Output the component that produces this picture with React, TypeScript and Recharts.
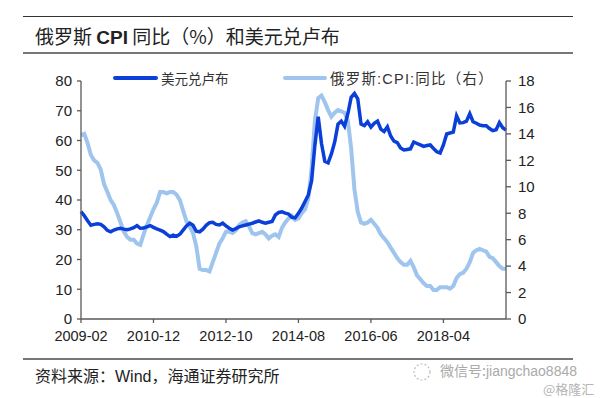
import React from "react";
import { LineChart, Line, XAxis, YAxis } from "recharts";

// USD/RUB, monthly, 2009-02 .. 2019-11
const usdRub = [
  36.1, 34.7, 33.0, 31.5, 31.8, 32.0, 31.8, 31.0, 29.8, 29.3,
  29.9, 30.3, 30.5, 30.2, 30.0, 30.3, 30.7, 31.4, 30.5, 30.6,
  31.0, 31.4, 30.8, 30.3, 29.9, 29.4, 28.5, 27.7, 28.2, 27.8,
  28.5, 29.9, 31.3, 32.2, 31.5, 29.5, 29.3, 30.2, 31.5, 32.4,
  32.5, 31.8, 31.6, 32.2, 31.3, 30.5, 29.9, 30.4, 31.0, 31.3,
  31.6, 31.9, 32.2, 32.6, 33.0, 32.5, 32.2, 32.5, 32.8, 35.0,
  35.8, 36.0, 35.6, 35.3, 34.2, 34.0, 35.5, 37.3, 39.5, 41.7,
  46.5, 58.5, 68.0, 59.0, 53.0, 52.5, 55.5, 59.5, 65.5, 66.5,
  64.8, 69.0, 74.5, 75.8, 74.0, 65.5, 65.0, 66.3, 64.5, 65.8,
  66.5, 63.8, 63.0, 64.6, 61.5, 59.8, 59.3, 57.5, 56.8, 57.0,
  57.2, 59.5, 59.0, 58.5, 58.0, 58.3, 58.5, 57.3, 56.2, 55.8,
  58.5, 62.2, 62.5, 62.8, 68.3, 65.9, 66.0, 66.5, 69.0, 66.3,
  65.8, 65.2, 65.0, 65.0, 64.0, 63.3, 63.6, 66.0, 64.3, 63.5,
];

// Russia CPI YoY (%), right axis
const cpiYoy = [
  13.9, 14.0, 13.3, 12.4, 12.0, 11.8, 11.3, 10.2, 9.6, 9.0,
  8.6, 8.0, 7.3, 6.6, 6.2, 6.0, 6.0, 5.7, 5.6, 6.4,
  7.1, 7.7, 8.3, 8.8, 9.6, 9.6, 9.5, 9.6, 9.6, 9.4,
  9.0, 8.2, 7.4, 7.0, 6.5, 5.5, 3.8, 3.7, 3.7, 3.6,
  4.3, 5.0, 5.7, 6.1, 6.6, 6.6, 6.5, 6.7, 7.1, 7.3,
  7.4, 7.0, 6.5, 6.4, 6.5, 6.6, 6.4, 6.1, 6.3, 6.4,
  6.2, 6.9, 7.3, 7.6, 7.8, 7.5, 7.6, 8.0, 8.3, 9.1,
  11.4, 15.0, 16.7, 16.9, 16.4, 15.8, 15.3, 15.6, 15.8, 15.7,
  15.6, 15.0, 12.9, 9.8, 8.1, 7.3, 7.2, 7.3, 7.5, 7.2,
  6.9, 6.4, 6.1, 5.8, 5.4, 5.0, 4.6, 4.3, 4.1, 4.1,
  4.4, 3.9, 3.3, 3.0, 2.7, 2.5, 2.5, 2.2, 2.2, 2.4,
  2.4, 2.4, 2.3, 2.5, 3.1, 3.4, 3.5, 3.8, 4.3, 5.0,
  5.2, 5.3, 5.2, 5.1, 4.7, 4.6, 4.3, 4.0, 3.8, 3.8,
];

const startYear = 2009;
const startMonth = 2;
const months = usdRub.map((_, i) => {
  const m = startMonth - 1 + i;
  const y = startYear + Math.floor(m / 12);
  return `${y}-${String((m % 12) + 1).padStart(2, "0")}`;
});

const leftTicks = [0, 10, 20, 30, 40, 50, 60, 70, 80];
const rightTicks = [0, 2, 4, 6, 8, 10, 12, 14, 16, 18];

const data = months.map((month, i) => ({ month, usd: usdRub[i], cpi: cpiYoy[i] }));

const DARK = "#0b3fd9";
const LIGHT = "#9fc5ef";
const AXIS = "#595959";
const cjk = '"Noto Sans CJK SC", "Liberation Sans", sans-serif';
const latin = '"Liberation Sans", Arial, sans-serif';

const abs = (style: React.CSSProperties): React.CSSProperties => ({ position: "absolute", ...style });

export default function App() {
  const tick = { fontSize: 15, fill: "#222", fontFamily: latin };
  return (
    <div style={abs({ left: 0, top: 0, width: 600, height: 398, background: "#fff", overflow: "hidden" })}>
      {/* title block */}
      <div style={abs({ left: 23, top: 16, width: 550, height: 0, borderTop: "1.5px solid #333" })} />
      <div style={abs({ left: 35, top: 25, height: 22, lineHeight: "22px", fontSize: 19, color: "#222", fontFamily: cjk, whiteSpace: "nowrap" })}>
        俄罗斯 <span style={{ fontFamily: latin, fontWeight: 700 }}>CPI</span> 同比（%）和美元兑卢布
      </div>
      <div style={abs({ left: 23, top: 52, width: 550, height: 0, borderTop: "2px solid #777" })} />

      <LineChart width={600} height={398} data={data} margin={{ top: 81, right: 44, bottom: 49, left: 31 }}
        style={{ position: "absolute", left: 0, top: 0 }}>
        <XAxis dataKey="month" interval={21} tickSize={4} tickMargin={8} height={30}
          axisLine={{ stroke: AXIS, strokeWidth: 1.3 }} tickLine={{ stroke: AXIS, strokeWidth: 1.3 }}
          tick={{ ...tick, fontSize: 14.5 }} />
        <YAxis yAxisId="left" domain={[0, 80]} ticks={leftTicks} width={50} tickSize={4} tickMargin={5}
          axisLine={{ stroke: AXIS, strokeWidth: 1.3 }} tickLine={{ stroke: AXIS, strokeWidth: 1.3 }} tick={tick} />
        <YAxis yAxisId="right" orientation="right" domain={[0, 18]} ticks={rightTicks} width={50} tickSize={5} tickMargin={7}
          axisLine={{ stroke: AXIS, strokeWidth: 1.3 }} tickLine={{ stroke: AXIS, strokeWidth: 1.3 }} tick={tick} />
        <Line yAxisId="right" dataKey="cpi" type="linear" stroke={LIGHT} strokeWidth={4} dot={false} isAnimationActive={false} />
        <Line yAxisId="left" dataKey="usd" type="linear" stroke={DARK} strokeWidth={3.5} dot={false} isAnimationActive={false} />
      </LineChart>

      {/* legend */}
      <div style={abs({ left: 113, top: 76, width: 45, height: 4, background: DARK, borderRadius: 2 })} />
      <div style={abs({ left: 161, top: 69, lineHeight: "18px", fontSize: 13.5, color: "#333", fontFamily: cjk, whiteSpace: "nowrap" })}>
        美元兑卢布
      </div>
      <div style={abs({ left: 283, top: 76, width: 44, height: 4, background: LIGHT, borderRadius: 2 })} />
      <div style={abs({ left: 330, top: 69, lineHeight: "18px", fontSize: 14.5, letterSpacing: 1.2, color: "#333", fontFamily: cjk, whiteSpace: "nowrap" })}>
        俄罗斯<span style={{ fontFamily: latin }}>:CPI:</span>同比（右）
      </div>

      {/* footer */}
      <div style={abs({ left: 23, top: 358, width: 550, height: 0, borderTop: "2px solid #777" })} />
      <div style={abs({ left: 35, top: 366, lineHeight: "18px", fontSize: 16, color: "#222", fontFamily: cjk, whiteSpace: "nowrap" })}>
        资料来源：<span style={{ fontFamily: latin }}>Wind</span>，海通证券研究所
      </div>
      <svg style={abs({ left: 410, top: 361, width: 24, height: 22 })}>
        <circle cx={12} cy={11} r={8} fill="none" stroke="#bbb" strokeWidth={1.2} strokeDasharray="2 2" />
      </svg>
      <div style={abs({ left: 440, top: 363, lineHeight: "14px", fontSize: 14, color: "#aaa", fontFamily: cjk, whiteSpace: "nowrap" })}>
        微信号:<span style={{ fontFamily: latin }}>jiangchao8848</span>
      </div>
      <div style={abs({ left: 543, top: 382, lineHeight: "13px", fontSize: 13, color: "#b5b5b5", fontFamily: cjk, whiteSpace: "nowrap" })}>
        @格隆汇
      </div>
    </div>
  );
}
